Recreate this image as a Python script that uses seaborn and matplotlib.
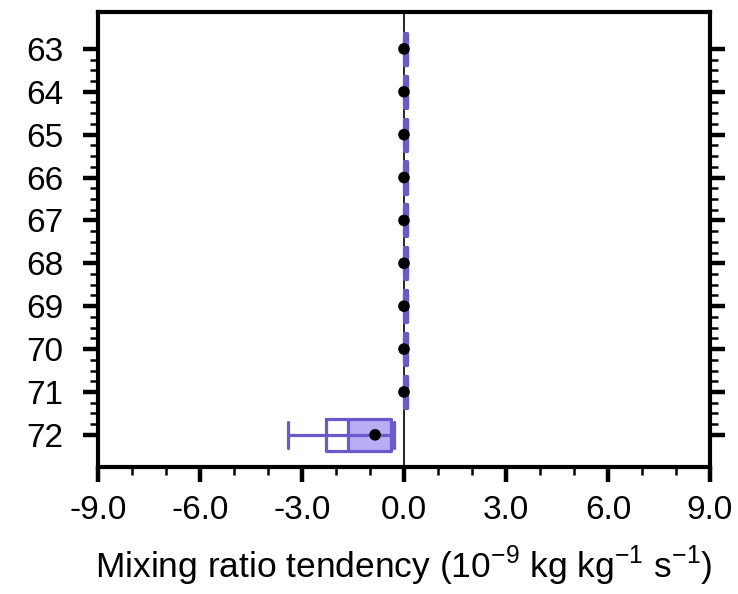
import matplotlib
matplotlib.use("Agg")
import matplotlib.pyplot as plt
import seaborn as sns
import pandas as pd

# model levels and box statistics (10^-9 kg kg-1 s-1)
levels = [63, 64, 65, 66, 67, 68, 69, 70, 71, 72]
whislo = [0.0, 0.0, 0.0, 0.0, 0.0, 0.0, 0.0, 0.0, 0.0, -3.41]
q1 = [0.01, 0.01, 0.01, 0.01, 0.01, 0.01, 0.01, 0.01, 0.01, -2.29]
med = [0.04, 0.04, 0.04, 0.04, 0.04, 0.04, 0.04, 0.04, 0.04, -1.65]
q3 = [0.08, 0.08, 0.08, 0.08, 0.08, 0.08, 0.08, 0.08, 0.08, -0.38]
whishi = [0.09, 0.09, 0.09, 0.09, 0.09, 0.09, 0.09, 0.09, 0.09, -0.30]
means = [0.0, 0.0, 0.0, 0.0, 0.0, 0.0, 0.0, 0.0, 0.0, -0.85]

xticks = [-9.0, -6.0, -3.0, 0.0, 3.0, 6.0, 9.0]

edge = "#6a5acd"
fill = "#b7aef3"

sns.set_theme(style="ticks")
plt.rcParams['font.family'] = ['Liberation Sans', 'DejaVu Sans']
plt.rcParams['mathtext.fontset'] = 'custom'
plt.rcParams['mathtext.rm'] = 'Liberation Sans'
plt.rcParams['text.color'] = 'black'
plt.rcParams['axes.labelcolor'] = 'black'
plt.rcParams['xtick.color'] = 'black'
plt.rcParams['ytick.color'] = 'black'

fig = plt.figure(figsize=(7.38, 5.94), dpi=100)
ax = fig.add_axes([0.1328, 0.2138, 0.8292, 0.7660])

df = pd.DataFrame({'level': levels, 'whislo': whislo, 'q1': q1, 'med': med,
                   'q3': q3, 'whishi': whishi, 'mean': means})

ax.axvline(0, color='black', lw=1.2, zorder=1)

# shaded part of the box, median to upper quartile
ax.barh(df['level'], df['q3'] - df['med'], left=df['med'], height=0.75,
        color=fill, edgecolor='none', zorder=2)

stats = []
for _, r in df.iterrows():
    stats.append({'whislo': r['whislo'], 'q1': r['q1'], 'med': r['med'],
                  'q3': r['q3'], 'whishi': r['whishi'], 'fliers': []})
bp = ax.bxp(stats, positions=levels, vert=False, widths=0.75, showfliers=False,
            patch_artist=False, manage_ticks=False,
            boxprops=dict(color=edge, lw=2.3),
            whiskerprops=dict(color=edge, lw=2.3),
            capprops=dict(color=edge, lw=2.3),
            medianprops=dict(color=edge, lw=2.3))
for cap in bp['caps']:
    x, y = cap.get_data()
    cap.set_data(x, [y[0] - 0.12, y[1] + 0.12])
for art in bp['boxes'] + bp['whiskers'] + bp['caps'] + bp['medians']:
    art.set_zorder(3)

# whisker line continues through the box
ax.hlines(df['level'], df['q1'], df['q3'], color=edge, lw=2.3, zorder=3)

sns.scatterplot(data=df, x='mean', y='level', color='black', s=70,
                edgecolor='none', zorder=5, ax=ax, legend=False)

ax.set_xlim(-9, 9)
ax.set_ylim(72.75, 62.14)
ax.set_xticks(xticks)
ax.set_xticklabels([f"{v:.1f}" for v in xticks])
ax.set_xticks([v for v in range(-9, 10) if v % 3 != 0], minor=True)
ax.set_yticks(levels)
ax.set_yticklabels([str(v) for v in levels])
ax.set_yticks([l + f for l in levels[:-1] for f in (0.25, 0.5, 0.75)], minor=True)

ax.tick_params(axis='both', which='major', length=11, width=3.2, labelsize=24,
               color='black', labelcolor='black')
ax.tick_params(axis='both', which='minor', length=5.5, width=1.8, color='black')
ax.tick_params(axis='y', which='both', left=True, right=True)
ax.tick_params(axis='y', which='major', pad=14)
ax.tick_params(axis='x', which='both', bottom=True, top=False)
ax.tick_params(axis='x', which='major', pad=9)
for s in ax.spines.values():
    s.set_linewidth(3.0)
    s.set_color('black')

ax.set_xlabel(r"Mixing ratio tendency (10$^{-9}$ kg kg$^{-1}$ s$^{-1}$)",
              fontsize=25.5, labelpad=13)
ax.set_ylabel('')

fig.savefig("out.png", dpi=100)
